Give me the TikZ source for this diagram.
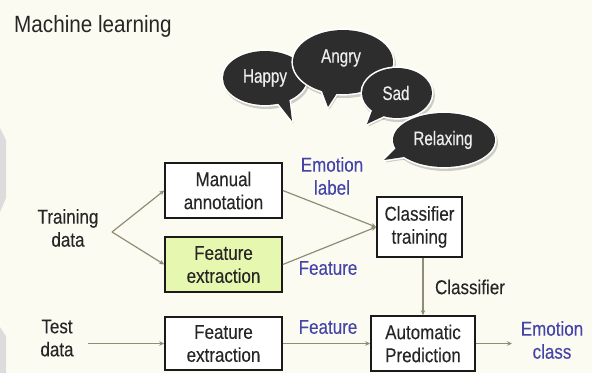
\documentclass[tikz,border=0pt]{standalone}
\usepackage{fontspec}
\setmainfont{Liberation Sans}
\newfontfamily\titlefont[FakeStretch=0.88]{Liberation Sans}
\newfontfamily\diagfont[FakeStretch=0.85,FakeBold=0.15]{Liberation Sans}
\newfontfamily\bubfont[FakeStretch=0.78,FakeBold=0.4]{Liberation Sans}
\usetikzlibrary{arrows.meta}
\definecolor{bgc}{HTML}{FBFBF1}
\definecolor{boxline}{HTML}{1A1A1A}
\definecolor{greenc}{HTML}{E6F7B0}
\definecolor{arrowc}{HTML}{8E8E76}
\definecolor{bluec}{HTML}{4444AA}
\definecolor{textc}{HTML}{262626}
\definecolor{bubc}{HTML}{2D2D2D}
\definecolor{bubtextc}{HTML}{EDEDED}
\definecolor{sidec}{HTML}{DCDCDC}
\newcommand\mybubble[6]{%
  \fill[black, opacity=0.18, shift={(1.5,2.5)}] (#1) ellipse [x radius=#2+1.5, y radius=#3+1.5];
  \fill[black, opacity=0.18, shift={(1.5,2.5)}] (#4) -- (#5) -- (#6) -- cycle;
  \draw[white, line width=3.2, line join=round] (#1) ellipse [x radius=#2, y radius=#3];
  \draw[white, line width=3.2, line join=round] (#4) -- (#5) -- (#6) -- cycle;
  \fill[bubc] (#1) ellipse [x radius=#2, y radius=#3];
  \fill[bubc] (#4) -- (#5) -- (#6) -- cycle;
}
\tikzset{
  box/.style={draw=boxline, line width=1.6, fill=white, align=center, inner sep=0,
    font=\diagfont\fontsize{20}{23}\selectfont, text=textc},
  lbl/.style={align=center, inner sep=0, font=\diagfont\fontsize{20}{23}\selectfont, text=textc},
  bluelbl/.style={lbl, text=bluec},
  bubtext/.style={inner sep=0, font=\bubfont\fontsize{19.5}{22}\selectfont, text=bubtextc},
  conn/.style={draw=arrowc, line width=1.2, -{Stealth[length=5pt,width=4.5pt]}}
}
\begin{document}
\begin{tikzpicture}[x=1pt,y=-1pt]
\useasboundingbox (0,0) rectangle (592,373);
\fill[bgc] (0,0) rectangle (592,373);
\fill[sidec] (0,128) -- (6,140) -- (6,198) -- (0,212) -- cycle;
\fill[sidec] (0,327) -- (6,336) -- (6,373) -- (0,373) -- cycle;

\node[anchor=base west, inner sep=0, font=\titlefont\fontsize{23.5}{28}\selectfont, text=textc] (title) at (14,32.5) {Machine learning};

% speech bubbles
\mybubble{265,78}{42}{27}{277,102}{292,121}{289,97}
\node[bubtext] (happy) at (265,78) {Happy};
\mybubble{343,62}{50}{32}{322,91}{328,107}{337,93}
\node[bubtext] (angry) at (341,58) {Angry};
\mybubble{397,93}{35}{25}{373,108}{367,124}{384,116}
\node[bubtext] (sad) at (396,93) {Sad};
\mybubble{444,140}{51}{27}{398,146}{384,160}{404,157}
\node[bubtext] (relax) at (443,140) {Relaxing};

% boxes
\node[box, minimum width=117, minimum height=55] (ma) at (223.5,190.5) {Manual\\annotation};
\node[box, fill=greenc, minimum width=117, minimum height=55] (fe1) at (223.5,264.5) {Feature\\extraction};
\node[box, minimum width=117, minimum height=53] (fe2) at (223.5,343.5) {Feature\\extraction};
\node[box, minimum width=85, minimum height=60] (ct) at (419.5,227) {Classifier\\training};
\node[box, minimum width=104, minimum height=55] (ap) at (423,343.5) {Automatic\\Prediction};

% labels
\node[lbl] (train) at (68,228) {Training\\data};
\node[lbl] (test) at (57,338) {Test\\data};
\node[bluelbl] (el) at (332,176) {Emotion\\label};
\node[bluelbl] (f1) at (328,268) {Feature};
\node[bluelbl] (f2) at (328,327) {Feature};
\node[lbl] (cl) at (470,287) {Classifier};
\node[bluelbl] (ec) at (552,340) {Emotion\\class};

% connectors
\coordinate (split) at (112,232);
\coordinate (testin) at (88,343.5);
\coordinate (out) at (512,343.5);
\draw[conn] (split) -- (ma.west);
\draw[conn] (split) -- (fe1.west);
\draw[conn] (testin) -- (fe2.west);
\draw[conn] (ma.east) -- (ct.west);
\draw[conn] (fe1.east) -- (ct.west);
\draw[conn] (ap.north |- ct.south) -- (ap.north);
\draw[conn] (fe2.east) -- (ap.west);
\draw[conn] (ap.east) -- (out);
\end{tikzpicture}
\end{document}
